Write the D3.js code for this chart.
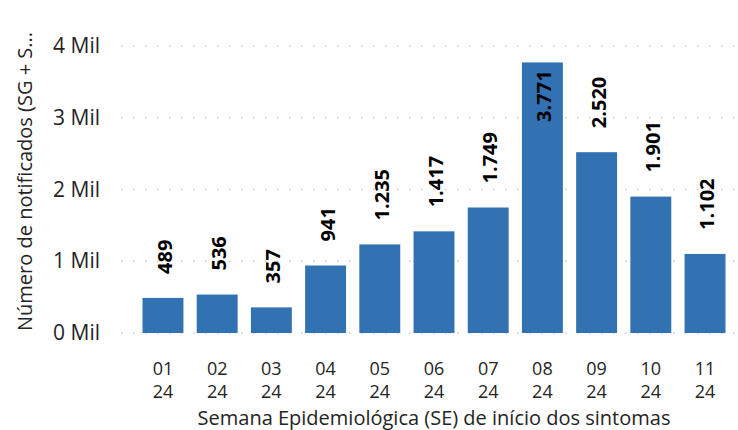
<!DOCTYPE html>
<html>
<head>
<meta charset="utf-8">
<script src="https://cdn.jsdelivr.net/npm/d3@7"></script>
<style>
  body { margin: 0; background: #fff; }
  svg text { font-family: "Open Sans", "Noto Sans", sans-serif; }
</style>
</head>
<body>
<div class="canvas"></div>
<script>
const weeks = ['01', '02', '03', '04', '05', '06', '07', '08', '09', '10', '11']
const year = '24'
const notified = [489, 536, 357, 941, 1235, 1417, 1749, 3771, 2520, 1901, 1102]
const yTicks = [0, 1000, 2000, 3000, 4000]

const width = 738
const height = 430

const svg = d3.select('.canvas')
  .append('svg')
  .attr('width', width)
  .attr('height', height)

// scales
const x = d3.scaleBand()
  .domain(weeks)
  .range([136, 732])
  .paddingInner(0.245)
  .paddingOuter(0.12)

const y = d3.scaleLinear()
  .domain([0, 4000])
  .range([333, 46])

// dotted gridlines
svg.append('g')
  .selectAll('line')
  .data(yTicks)
  .enter()
  .append('line')
  .attr('x1', 121)
  .attr('x2', 736)
  .attr('y1', d => y(d))
  .attr('y2', d => y(d))
  .attr('stroke', '#c8c8c8')
  .attr('stroke-width', 1.5)
  .attr('stroke-dasharray', '1.5,10.5')

// y axis
const yAxis = d3.axisLeft(y)
  .tickValues(yTicks)
  .tickSize(0)
  .tickPadding(0)
  .tickFormat(d => `${d / 1000} Mil`)

const yAxisGroup = svg.append('g')
  .attr('transform', 'translate(100, 0)')
  .call(yAxis)
yAxisGroup.select('.domain').remove()
yAxisGroup.selectAll('text')
  .attr('font-size', 21)
  .attr('fill', '#252423')
  .attr('font-family', null)

// bars
svg.append('g')
  .selectAll('rect')
  .data(notified)
  .enter()
  .append('rect')
  .attr('x', (d, i) => x(weeks[i]))
  .attr('y', d => y(d))
  .attr('width', x.bandwidth())
  .attr('height', d => y(0) - y(d))
  .attr('fill', '#3272B2')

// data labels, rotated; the tallest one goes inside the bar
const fmt = d3.formatLocale({ decimal: ',', thousands: '.', grouping: [3] }).format(',')
const isInside = d => y(d) - 24 - 55 < 0

svg.append('g')
  .selectAll('text')
  .data(notified)
  .enter()
  .append('text')
  .attr('transform', (d, i) => {
    const cx = x(weeks[i]) + x.bandwidth() / 2
    const ty = isInside(d) ? y(d) + 8 : y(d) - 24
    return `translate(${cx}, ${ty}) rotate(-90)`
  })
  .attr('text-anchor', d => isInside(d) ? 'end' : 'start')
  .attr('dy', '0.45em')
  .attr('font-size', 20)
  .attr('font-weight', 'bold')
  .attr('fill', '#000')
  .text(d => fmt(d))

// x tick labels (week / year)
const xLabels = svg.append('g')
  .selectAll('text')
  .data(weeks)
  .enter()
  .append('text')
  .attr('text-anchor', 'middle')
  .attr('font-size', 18)
  .attr('fill', '#252423')
xLabels.append('tspan')
  .attr('x', d => x(d) + x.bandwidth() / 2)
  .attr('y', 375)
  .text(d => d)
xLabels.append('tspan')
  .attr('x', d => x(d) + x.bandwidth() / 2)
  .attr('y', 398)
  .text(year)

// axis titles
svg.append('text')
  .attr('x', 434)
  .attr('y', 425)
  .attr('text-anchor', 'middle')
  .attr('font-size', 20)
  .attr('fill', '#252423')
  .text('Semana Epidemiológica (SE) de início dos sintomas')

svg.append('text')
  .attr('transform', 'translate(32, 331) rotate(-90)')
  .attr('text-anchor', 'start')
  .attr('font-size', 20)
  .attr('fill', '#252423')
  .text('Número de notificados (SG + S...')
</script>
</body>
</html>
